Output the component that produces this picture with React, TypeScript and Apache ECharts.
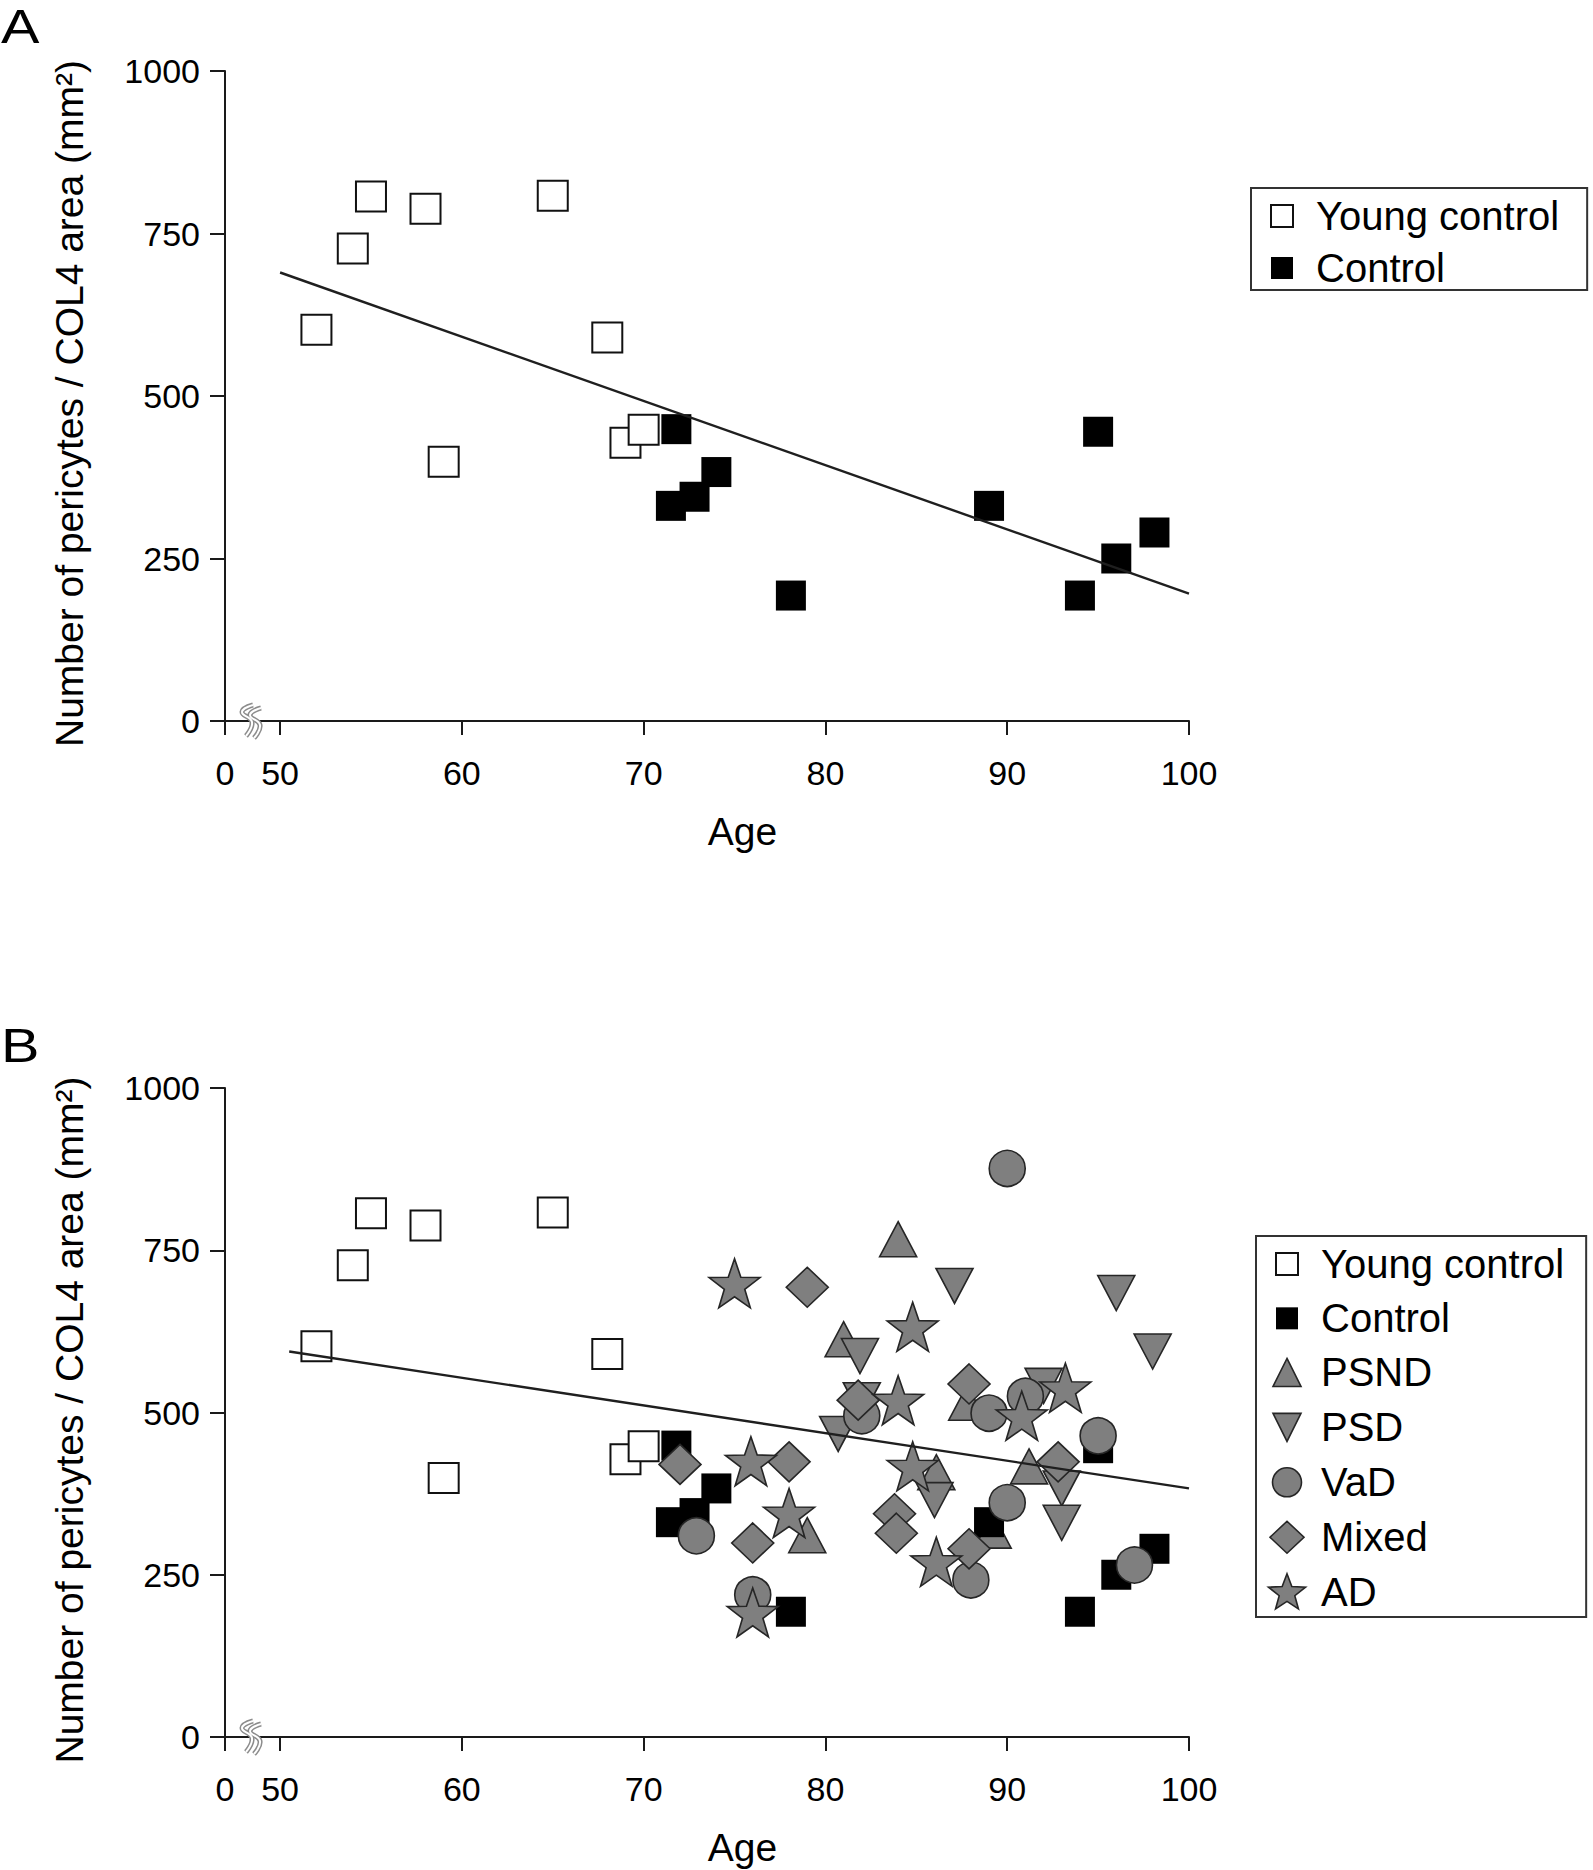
import React, { useEffect, useRef } from 'react';
import * as echarts from 'echarts';

const FONT = '"Liberation Sans", Arial, Helvetica, sans-serif';

// ---- axis ticks ----
const AGE_TICKS = [50, 60, 70, 80, 90, 100];
const AGE_BREAK_MIN = 46.97; // position of the "0" label left of the axis break
const VALUE_MAX = 1000;
const VALUE_STEP = 250;

// ---- series data: [age, pericytes per COL4 area] ----
const youngControl: number[][] = [
  [52, 602], [54, 727], [55, 807], [58, 788], [59, 399], [65, 808], [68, 590], [69, 428], [70, 448],
];
const control: number[][] = [
  [71.5, 331], [72.8, 345], [71.8, 449], [74, 383], [78.1, 193], [89, 331], [94, 193], [95, 445], [96, 250], [98.1, 290],
];
const psnd: number[][] = [
  [84, 767], [81, 613], [79, 311], [86.1, 408], [91.2, 417], [87.8, 515], [89.2, 318],
];
const psd: number[][] = [
  [87.1, 695], [96, 684], [98, 594], [81.9, 587], [82, 519], [80.7, 467], [92, 541], [86, 365], [93, 383], [93, 330],
];
const vad: number[][] = [
  [90, 876], [82, 495], [89, 499], [91, 525], [95, 464], [90, 361], [72.9, 310], [76, 219], [88, 242], [97, 265],
];
const mixed: number[][] = [
  [79, 693], [72, 420], [78, 424], [76, 299], [83.8, 344], [83.9, 314], [87.9, 544], [87.9, 290], [92.8, 424], [81.8, 519],
];
const ad: number[][] = [
  [75, 699], [84.8, 632], [84, 519], [75.9, 425], [78, 345], [76, 192], [84.8, 417], [86.1, 270], [90.8, 495], [93.2, 538],
];
// regression lines (end points)
const trendA: number[][] = [[50, 690], [100, 196]];
const trendB: number[][] = [[50.5, 594], [100, 383]];

const LEGEND_A = ['Young control', 'Control'];
const LEGEND_B = ['Young control', 'Control', 'PSND', 'PSD', 'VaD', 'Mixed', 'AD'];

const Y_NAME = 'Number of pericytes / COL4 area (mm²)';
const X_NAME = 'Age';

// ---- styles ----
const GRAY = '#7f7f7f';
const EDGE = '#262626';
const AXIS = '#1a1a1a';

const STAR = 'path://M50,0 L61.76,33.82 L97.55,34.55 L69.02,56.18 L79.39,90.45 L50,70 L20.61,90.45 L30.98,56.18 L2.45,34.55 L38.24,33.82 Z';

// legend icons drawn inside a 50x40 box
const BOX = 'M0,0 M50,40 ';
const ICON_SQUARE = 'path://' + BOX + 'M10,9 L32,9 L32,31 L10,31 Z';
const ICON_TRI_UP = 'path://' + BOX + 'M21,6 L35,34 L7,34 Z';
const ICON_TRI_DOWN = 'path://' + BOX + 'M7,6 L35,6 L21,34 Z';
const ICON_CIRCLE = 'path://' + BOX + 'M6.5,20 A14.5,14.5 0 1 1 35.5,20 A14.5,14.5 0 1 1 6.5,20 Z';
const ICON_DIAMOND = 'path://' + BOX + 'M21,4 L38,20 L21,36 L4,20 Z';
const ICON_STAR = 'path://' + BOX + 'M21,1.5 L25.82,14.37 L39.55,14.97 L28.8,23.53 L32.46,36.78 L21,29.2 L9.54,36.78 L13.2,23.53 L2.45,14.97 L16.18,14.37 Z';

type Style = { symbol: string; size: number | number[]; rotate: number; color: string; border: string; bw: number; icon: string };
const STYLES: Record<string, Style> = {
  'Young control': { symbol: 'rect', size: 30, rotate: 0, color: '#ffffff', border: '#111', bw: 2, icon: ICON_SQUARE },
  Control: { symbol: 'rect', size: 30, rotate: 0, color: '#000000', border: '#000', bw: 0, icon: ICON_SQUARE },
  PSND: { symbol: 'triangle', size: [37, 35], rotate: 0, color: GRAY, border: EDGE, bw: 1.6, icon: ICON_TRI_UP },
  PSD: { symbol: 'triangle', size: [37, 35], rotate: 180, color: GRAY, border: EDGE, bw: 1.6, icon: ICON_TRI_DOWN },
  VaD: { symbol: 'circle', size: 36, rotate: 0, color: GRAY, border: EDGE, bw: 1.6, icon: ICON_CIRCLE },
  Mixed: { symbol: 'diamond', size: [42, 40], rotate: 0, color: GRAY, border: EDGE, bw: 1.6, icon: ICON_DIAMOND },
  AD: { symbol: STAR, size: [51, 49], rotate: 0, color: GRAY, border: EDGE, bw: 1.6, icon: ICON_STAR },
};

const GRID_LEFT = 225;
const GRID_W = 964;
const GRIDS = [
  { left: GRID_LEFT, top: 71, width: GRID_W, height: 650 },
  { left: GRID_LEFT, top: 1088, width: GRID_W, height: 649 },
];

function scatter(name: string, data: number[][], idx: number) {
  const s = STYLES[name];
  return {
    type: 'scatter',
    name,
    data,
    xAxisIndex: idx,
    yAxisIndex: idx,
    symbol: s.symbol,
    symbolSize: s.size,
    symbolRotate: s.rotate,
    symbolKeepAspect: false,
    itemStyle: { color: s.color, borderColor: s.border, borderWidth: s.bw, opacity: 1 },
    emphasis: { disabled: true },
    silent: true,
    z: 2,
  };
}

function trend(data: number[][], idx: number) {
  return {
    type: 'line',
    name: 'trend' + idx,
    data,
    xAxisIndex: idx,
    yAxisIndex: idx,
    symbol: 'none',
    lineStyle: { color: '#1f1f1f', width: 2.4 },
    silent: true,
    z: 5,
  };
}

function xAxis(idx: number) {
  const values = [AGE_BREAK_MIN, ...AGE_TICKS];
  return {
    type: 'value',
    gridIndex: idx,
    min: AGE_BREAK_MIN,
    max: 100,
    axisLine: { show: true, onZero: false, lineStyle: { color: AXIS, width: 2 } },
    axisTick: { show: true, length: 14, lineStyle: { color: AXIS, width: 2 }, customValues: values },
    axisLabel: {
      customValues: values,
      formatter: (v: number) => (v < 50 ? '0' : String(v)),
      fontSize: 34,
      lineHeight: 34,
      margin: 35,
      color: '#000',
      fontFamily: FONT,
    },
    splitLine: { show: false },
    name: X_NAME,
    nameLocation: 'middle',
    nameGap: 90,
    nameTextStyle: { fontSize: 39, lineHeight: 40, color: '#000', fontFamily: FONT, padding: [0, 0, 0, 71] },
  };
}

function yAxis(idx: number) {
  return {
    type: 'value',
    gridIndex: idx,
    min: 0,
    max: VALUE_MAX,
    interval: VALUE_STEP,
    axisLine: { show: true, onZero: false, lineStyle: { color: AXIS, width: 2 } },
    axisTick: { show: true, length: 15, lineStyle: { color: AXIS, width: 2 } },
    axisLabel: {
      formatter: (v: number) => String(v),
      fontSize: 34,
      lineHeight: 34,
      margin: 25,
      color: '#000',
      fontFamily: FONT,
    },
    splitLine: { show: false },
    name: Y_NAME,
    nameLocation: 'middle',
    nameGap: 136,
    nameTextStyle: { fontSize: 39, lineHeight: 40, color: '#000', fontFamily: FONT, padding: [0, 15, 0, 0] },
  };
}

function legend(names: string[], left: number, top: number, gap: number, padding: number[]) {
  return {
    orient: 'vertical',
    left,
    top,
    selectedMode: false,
    itemWidth: 50,
    itemHeight: 40,
    itemGap: gap,
    padding,
    borderColor: '#333',
    borderWidth: 2,
    backgroundColor: '#fff',
    textStyle: { fontSize: 40, lineHeight: 40, color: '#000', fontFamily: FONT },
    data: names.map((n) => ({
      name: n,
      icon: STYLES[n].icon,
      itemStyle: { color: STYLES[n].color, borderColor: STYLES[n].border, borderWidth: STYLES[n].bw },
    })),
  };
}

function breakMark(grid: { left: number; top: number; height: number }) {
  const x0 = grid.left;
  const y0 = grid.top + grid.height;
  const s1 = [[28, -16], [17, -9], [27, 1], [21, 15]];
  const s2 = [[36, -13], [25, -6], [35, 4], [29, 17]];
  const els: any[] = [];
  [s1, s2].forEach((s) => {
    const pts = s.map(([dx, dy]) => [x0 + dx, y0 + dy]);
    els.push({ type: 'polyline', shape: { points: pts, smooth: 0.5 }, style: { stroke: '#8c8c8c', lineWidth: 5, fill: null }, z: 10 });
    els.push({ type: 'polyline', shape: { points: pts, smooth: 0.5 }, style: { stroke: '#ffffff', lineWidth: 2, fill: null }, z: 11 });
  });
  return els;
}

export default function App() {
  const ref = useRef<HTMLDivElement>(null);
  useEffect(() => {
    if (!ref.current) return;
    const chart = echarts.init(ref.current, null, { renderer: 'svg', width: 1593, height: 1870 });
    const option: any = {
      animation: false,
      backgroundColor: '#ffffff',
      textStyle: { fontFamily: FONT },
      grid: GRIDS,
      xAxis: [xAxis(0), xAxis(1)],
      yAxis: [yAxis(0), yAxis(1)],
      legend: [
        legend(LEGEND_A, 1251, 188, 11, [7, 28, 2, 9]),
        legend(LEGEND_B, 1256, 1236, 13.33, [7, 22, 4, 9]),
      ],
      series: [
        scatter('Young control', youngControl, 0),
        scatter('Control', control, 0),
        trend(trendA, 0),
        scatter('Young control', youngControl, 1),
        scatter('PSND', psnd, 1),
        scatter('Control', control, 1),
        scatter('PSD', psd, 1),
        scatter('VaD', vad, 1),
        scatter('Mixed', mixed, 1),
        scatter('AD', ad, 1),
        trend(trendB, 1),
      ],
      graphic: [
        { type: 'text', x: 1, y: 2, scaleX: 1.2, style: { text: 'A', fontSize: 48, lineHeight: 48, fontFamily: FONT, fill: '#000', verticalAlign: 'top' } },
        { type: 'text', x: 1, y: 1021, scaleX: 1.2, style: { text: 'B', fontSize: 48, lineHeight: 48, fontFamily: FONT, fill: '#000', verticalAlign: 'top' } },
        ...breakMark(GRIDS[0]),
        ...breakMark(GRIDS[1]),
      ],
    };
    chart.setOption(option);
    return () => chart.dispose();
  }, []);
  return (
    <div
      ref={ref}
      style={{ position: 'absolute', left: 0, top: 0, width: 1593, height: 1870, background: '#fff' }}
    />
  );
}
